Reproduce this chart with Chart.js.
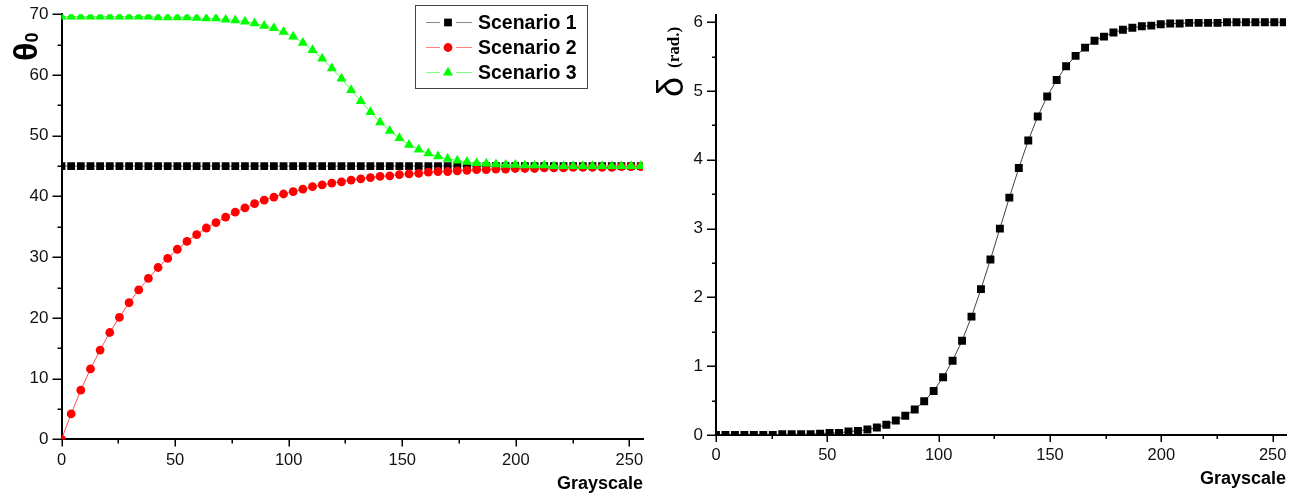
<!DOCTYPE html>
<html>
<head>
<meta charset="utf-8">
<script src="https://cdn.jsdelivr.net/npm/chart.js@4.4.1/dist/chart.umd.min.js"></script>
<style>
  html, body { margin: 0; padding: 0; background: #fff; width: 1309px; height: 502px; overflow: hidden; }
  #thetaChart { position: absolute; left: 0; top: 0; }
  #deltaChart { position: absolute; left: 650px; top: 0; }
</style>
</head>
<body>
<canvas id="thetaChart" width="650" height="502"></canvas>
<canvas id="deltaChart" width="659" height="502"></canvas>
<script>
// Grayscale sample levels shared by both panels
const grayscale = [0, 4.25, 8.5, 12.75, 17, 21.25, 25.5, 29.75, 34, 38.25, 42.5, 46.75, 51, 55.25, 59.5, 63.75,
  68, 72.25, 76.5, 80.75, 85, 89.25, 93.5, 97.75, 102, 106.25, 110.5, 114.75, 119, 123.25, 127.5, 131.75,
  136, 140.25, 144.5, 148.75, 153, 157.25, 161.5, 165.75, 170, 174.25, 178.5, 182.75, 187, 191.25, 195.5,
  199.75, 204, 208.25, 212.5, 216.75, 221, 225.25, 229.5, 233.75, 238, 242.25, 246.5, 250.75, 255];

// theta_0 (degrees) for the three scenarios
const scenario1 = [45, 45, 45, 45, 45, 45, 45, 45, 45, 45, 45, 45, 45, 45, 45, 45, 45, 45, 45, 45, 45,
  45, 45, 45, 45, 45, 45, 45, 45, 45, 45, 45, 45, 45, 45, 45, 45, 45, 45, 45, 45, 45, 45, 45, 45, 45,
  45, 45, 45, 45, 45, 45, 45, 45, 45, 45, 45, 45, 45, 45, 45];
const scenario2 = [0, 4.2, 8.1, 11.6, 14.7, 17.6, 20.1, 22.5, 24.6, 26.5, 28.3, 29.8, 31.3, 32.6, 33.7, 34.8,
  35.7, 36.6, 37.4, 38.1, 38.8, 39.4, 39.9, 40.4, 40.8, 41.2, 41.6, 41.9, 42.2, 42.4, 42.7, 42.9, 43.1,
  43.3, 43.4, 43.6, 43.7, 43.8, 44.0, 44.1, 44.1, 44.2, 44.3, 44.4, 44.4, 44.5, 44.5, 44.6, 44.6, 44.6,
  44.7, 44.7, 44.7, 44.8, 44.8, 44.8, 44.8, 44.8, 44.9, 44.9, 44.9];
const scenario3 = [69.6, 69.6, 69.6, 69.6, 69.6, 69.6, 69.6, 69.6, 69.6, 69.6, 69.5, 69.5, 69.5, 69.5, 69.4,
  69.3, 69.3, 69.1, 69.0, 68.8, 68.5, 68.1, 67.7, 67.1, 66.3, 65.3, 64.1, 62.7, 61.1, 59.4, 57.5, 55.7,
  53.9, 52.2, 50.8, 49.6, 48.5, 47.7, 47.1, 46.6, 46.2, 45.9, 45.7, 45.5, 45.4, 45.3, 45.2, 45.2, 45.1,
  45.1, 45.1, 45.0, 45.0, 45.0, 45.0, 45.0, 45.0, 45.0, 45.0, 45.0, 45.0];

// delta (rad.) versus grayscale
const delta = [0.00, 0.00, 0.00, 0.00, 0.00, 0.00, 0.00, 0.01, 0.01, 0.01, 0.01, 0.02, 0.03, 0.03, 0.05, 0.06,
  0.08, 0.11, 0.15, 0.21, 0.28, 0.37, 0.49, 0.64, 0.84, 1.08, 1.37, 1.72, 2.12, 2.55, 3.00, 3.45, 3.88,
  4.28, 4.63, 4.92, 5.16, 5.36, 5.51, 5.63, 5.73, 5.79, 5.85, 5.89, 5.92, 5.94, 5.95, 5.97, 5.98, 5.98,
  5.99, 5.99, 5.99, 5.99, 6.00, 6.00, 6.00, 6.00, 6.00, 6.00, 6.00];

// Labelled (major) tick values
const grayTickLabels = [0, 50, 100, 150, 200, 250];
const thetaTickLabels = [0, 10, 20, 30, 40, 50, 60, 70];
const deltaTickLabels = [0, 1, 2, 3, 4, 5, 6];

const SANS = '"Liberation Sans", Arial, sans-serif';
const SERIF = '"Liberation Serif", "Times New Roman", serif';

const pts = (ys) => grayscale.map((g, i) => ({ x: g, y: ys[i] }));

// Major / minor tick marks drawn outward from both axes
const axisTicks = {
  id: 'axisTicks',
  afterDraw(chart, args, o) {
    const ctx = chart.ctx;
    const xs = chart.scales.x, ys = chart.scales.y;
    ctx.save();
    ctx.strokeStyle = '#000';
    ctx.lineWidth = 1.5;
    xs.ticks.forEach(t => {
      const px = Math.round(xs.getPixelForValue(t.value)) + 0.25;
      const len = o.xMajor.includes(t.value) ? 7 : 4;
      ctx.beginPath(); ctx.moveTo(px, xs.top); ctx.lineTo(px, xs.top + len); ctx.stroke();
    });
    ys.ticks.forEach(t => {
      const py = Math.round(ys.getPixelForValue(t.value)) + 0.25;
      const len = o.yMajor.includes(t.value) ? 9 : 4;
      ctx.beginPath(); ctx.moveTo(ys.right, py); ctx.lineTo(ys.right - len, py); ctx.stroke();
    });
    ctx.restore();
  }
};

// Rotated y-axis title built from several runs of text
const axisTitle = {
  id: 'axisTitle',
  afterDraw(chart, args, o) {
    const ctx = chart.ctx;
    ctx.save();
    ctx.fillStyle = '#000';
    ctx.textAlign = 'left';
    ctx.textBaseline = 'alphabetic';
    ctx.translate(o.x, o.y);
    ctx.rotate(-Math.PI / 2);
    let cursor = 0;
    o.parts.forEach(p => {
      ctx.font = p.font;
      cursor += p.gap || 0;
      ctx.fillText(p.text, cursor, p.dy || 0);
      cursor += ctx.measureText(p.text).width;
    });
    ctx.restore();
  }
};

function drawMarker(ctx, style, r, x, y) {
  ctx.beginPath();
  if (style === 'rect') {
    const s = r * Math.SQRT1_2;
    ctx.rect(x - s, y - s, 2 * s, 2 * s);
  } else if (style === 'circle') {
    ctx.arc(x, y, r, 0, Math.PI * 2);
  } else if (style === 'triangle') {
    ctx.moveTo(x, y - r);
    ctx.lineTo(x + r * Math.sin(Math.PI * 2 / 3), y + r / 2);
    ctx.lineTo(x - r * Math.sin(Math.PI * 2 / 3), y + r / 2);
    ctx.closePath();
  }
  ctx.fill();
}

// Framed legend in the upper part of the plot
const boxLegend = {
  id: 'boxLegend',
  afterDraw(chart, args, o) {
    const ctx = chart.ctx;
    ctx.save();
    ctx.fillStyle = '#fff';
    ctx.fillRect(o.left, o.top, o.width, o.height);
    ctx.strokeStyle = '#444';
    ctx.lineWidth = 1;
    ctx.strokeRect(o.left + 0.5, o.top + 0.5, o.width, o.height);
    chart.data.datasets.forEach((ds, i) => {
      const cy = o.top + o.firstRow + i * o.rowGap;
      const mx = o.left + 33;
      ctx.strokeStyle = ds.legendLine;
      ctx.lineWidth = 1;
      ctx.beginPath();
      ctx.moveTo(o.left + 11, cy); ctx.lineTo(mx - 8, cy);
      ctx.moveTo(mx + 8, cy); ctx.lineTo(o.left + 57, cy);
      ctx.stroke();
      ctx.fillStyle = ds.pointBackgroundColor;
      drawMarker(ctx, ds.pointStyle, ds.pointRadius, mx, cy);
      ctx.fillStyle = '#000';
      ctx.font = 'bold 19.5px ' + SANS;
      ctx.textAlign = 'left';
      ctx.textBaseline = 'middle';
      ctx.fillText(ds.label, o.left + 63, cy + 1);
    });
    ctx.restore();
  }
};

function xScale(height, titlePad) {
  return {
    type: 'linear', min: 0, max: 256,
    grid: { display: false, drawTicks: true, tickLength: 7 },
    border: { display: true, color: '#000', width: 2 },
    ticks: {
      stepSize: 25, includeBounds: false, autoSkip: false, maxRotation: 0, padding: 4,
      color: '#111', font: { family: SANS, size: 16.5 },
      callback: v => grayTickLabels.includes(v) ? String(v) : ''
    },
    title: {
      display: true, text: 'Grayscale', align: 'end', color: '#000',
      font: { family: SANS, size: 18, weight: 'bold' },
      padding: { top: 0, bottom: titlePad }
    },
    afterFit: s => { s.height = height; }
  };
}

function yScale(min, max, step, labels, width) {
  return {
    type: 'linear', min: min, max: max,
    grid: { display: false, drawTicks: true, tickLength: 9 },
    border: { display: true, color: '#000', width: 2 },
    ticks: {
      stepSize: step, includeBounds: false, autoSkip: false, padding: 4,
      color: '#111', font: { family: SANS, size: 17 },
      callback: v => labels.includes(v) ? String(v) : ''
    },
    afterFit: s => { s.width = width; }
  };
}

const baseOptions = {
  responsive: false,
  animation: false,
  devicePixelRatio: 1,
  events: []
};

new Chart(document.getElementById('thetaChart'), {
  type: 'line',
  data: {
    datasets: [
      {
        label: 'Scenario 1', data: pts(scenario1), order: 3, clip: 0,
        borderColor: '#7a7a7a', legendLine: '#8a8a8a', borderWidth: 1,
        pointStyle: 'rect', pointRadius: 5.5, pointBackgroundColor: '#000', pointBorderWidth: 0
      },
      {
        label: 'Scenario 2', data: pts(scenario2), order: 2, clip: 0,
        borderColor: '#ff5050', legendLine: '#ff8080', borderWidth: 1,
        pointStyle: 'circle', pointRadius: 4.4, pointBackgroundColor: '#ff0000', pointBorderWidth: 0
      },
      {
        label: 'Scenario 3', data: pts(scenario3), order: 1, clip: 0,
        borderColor: '#50ff50', legendLine: '#80ff80', borderWidth: 1,
        pointStyle: 'triangle', pointRadius: 5.8, pointBackgroundColor: '#00ff00', pointBorderWidth: 0
      }
    ]
  },
  options: Object.assign({}, baseOptions, {
    layout: { padding: { left: 0, right: 7, top: 11, bottom: 0 } },
    scales: {
      x: xScale(62.6, 7),
      y: yScale(0, 70, 5, thetaTickLabels, 61.5)
    },
    plugins: {
      legend: { display: false },
      tooltip: { enabled: false },
      axisTicks: { xMajor: grayTickLabels, yMajor: thetaTickLabels },
      axisTitle: {
        x: 37, y: 61,
        parts: [
          { text: 'θ', font: 'bold 34px ' + SANS },
          { text: '0', font: 'bold 18px ' + SANS, gap: 0, dy: 1 }
        ]
      },
      boxLegend: { left: 415, top: 5, width: 172, height: 83, firstRow: 17.5, rowGap: 25 }
    }
  }),
  plugins: [axisTicks, axisTitle, boxLegend]
});

new Chart(document.getElementById('deltaChart'), {
  type: 'line',
  data: {
    datasets: [
      {
        label: 'δ', data: pts(delta), clip: 0,
        borderColor: '#444', borderWidth: 1,
        pointStyle: 'rect', pointRadius: 5.6, pointBackgroundColor: '#000', pointBorderWidth: 0
      }
    ]
  },
  options: Object.assign({}, baseOptions, {
    layout: { padding: { left: 0, right: 23, top: 15.3, bottom: 0 } },
    scales: {
      x: xScale(67, 12),
      y: yScale(0, 6.1, 0.5, deltaTickLabels, 66)
    },
    plugins: {
      legend: { display: false },
      tooltip: { enabled: false },
      axisTicks: { xMajor: grayTickLabels, yMajor: deltaTickLabels },
      axisTitle: {
        x: 33, y: 97,
        parts: [
          { text: 'δ', font: '36px ' + SANS },
          { text: '(rad.)', font: 'bold 17px ' + SERIF, gap: 9, dy: -4 }
        ]
      }
    }
  }),
  plugins: [axisTicks, axisTitle]
});
</script>
</body>
</html>
